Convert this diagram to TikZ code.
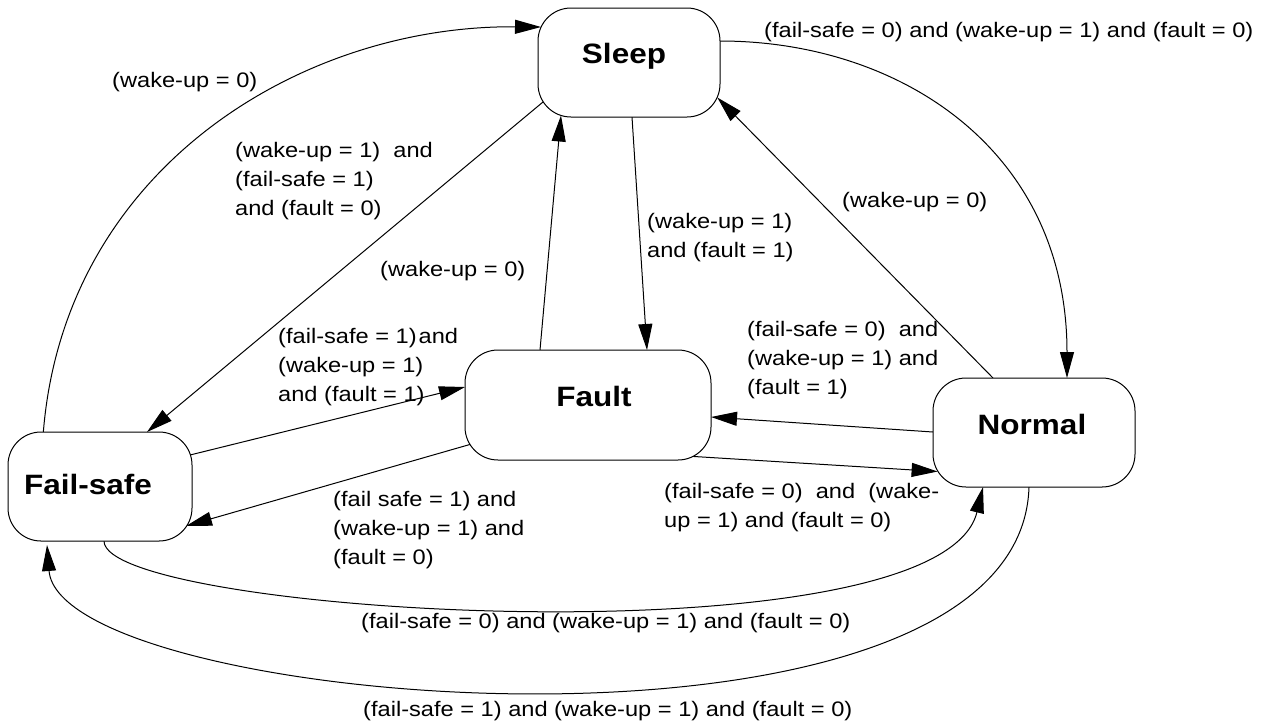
\documentclass[tikz,border=0pt]{standalone}
\usepackage{fontspec}
\setmainfont{Liberation Sans}[FakeStretch=1.125]
\usetikzlibrary{arrows.meta,calc,backgrounds}
\begin{document}
\begin{tikzpicture}[x=1pt,y=-1pt,
  statebox/.style={draw, line width=1pt, fill=white, rounded corners=33pt, inner sep=0pt, minimum width=#1, minimum height=109pt},
  stxt/.style={anchor=base, inner sep=0pt, font=\fontsize{28pt}{32pt}\selectfont\bfseries},
  lbl/.style={anchor=north west, inner sep=0pt, align=left, font=\fontsize{21pt}{29pt}\selectfont},
  trans/.style={line width=1pt, -{Triangle[length=26pt,width=14pt]}}
]
\useasboundingbox (0,0) rectangle (1266,724);

% states
\node[statebox=182pt] (sleep) at (629,62.5) {};
\node[statebox=246pt, minimum height=110pt] (fault) at (588,405) {};
\node[statebox=202pt] (normal) at (1034,432.5) {};
\node[statebox=184pt] (failsafe) at (100,486.5) {};

\node[stxt] (sleepT) at (624,63) {Sleep};
\node[stxt] (faultT) at (594,406) {Fault};
\node[stxt] (normalT) at (1032,434) {Normal};
\node[stxt] (failsafeT) at (88,494) {Fail-safe};

% transitions
\begin{scope}[on background layer]
\draw[trans] ($(failsafe)+(-57,-50)$) .. controls (62,170) and (300,25) .. ($(sleep)+(-88,-35.5)$);
\draw[trans] ($(sleep)+(-74,29.5)$) -- ($(failsafe)+(47,-54.5)$);
\draw[trans] ($(fault)+(-48,-55)$) -- ($(sleep)+(-68,53)$);
\draw[trans] ($(sleep)+(3,54.5)$) -- ($(fault)+(59,-55)$);
\draw[trans] ($(normal)+(-41,-54.5)$) -- ($(sleep)+(88.3,35)$);
\draw[trans] ($(sleep)+(91,-21.5)$) .. controls (900,41) and (1067,150) .. ($(normal)+(33,-54.5)$);
\draw[trans] ($(failsafe)+(86,-30.5)$) -- ($(fault)+(-123,-18)$);
\draw[trans] ($(fault)+(-113,38)$) -- ($(failsafe)+(86,39.5)$);
\draw[trans] ($(normal)+(-101,-0.5)$) -- ($(fault)+(123,12)$);
\draw[trans] ($(fault)+(98,51)$) -- ($(normal)+(-96.4,39)$);
\draw[trans] ($(failsafe)+(4,54.5)$) .. controls (104,615) and (940,665) .. ($(normal)+(-51,54.5)$);
\draw[trans] ($(normal)+(-5,54.5)$) .. controls (1020,788) and (60,710) .. ($(failsafe)+(-53,58.5)$);
\end{scope}

% labels
\node[lbl] (l1) at (112,72) {(wake-up = 0)};
\node[lbl] (l2) at (235,142) {(wake-up = 1)~ and\\(fail-safe = 1)\\and (fault = 0)};
\node[lbl] (l3) at (380,261) {(wake-up = 0)};
\node[lbl] (l4) at (647,213) {(wake-up = 1)\\and (fault = 1)};
\node[lbl] (l5) at (842,192) {(wake-up = 0)};
\node[lbl] (l6) at (764,22) {(fail-safe = 0) and (wake-up = 1) and (fault = 0)};
\node[lbl] (l7) at (278,328) {(fail-safe = 1)\hspace{2pt}and\\(wake-up = 1)\\and (fault = 1)};
\node[lbl] (l8) at (333,491) {(fail safe = 1) and\\(wake-up = 1) and\\(fault = 0)};
\node[lbl] (l9) at (747,321) {(fail-safe = 0)~ and\\(wake-up = 1) and\\(fault = 1)};
\node[lbl] (l10) at (664,483) {(fail-safe = 0)~ and~ (wake-\\up = 1) and (fault = 0)};
\node[lbl] (l11) at (361,613) {(fail-safe = 0) and (wake-up = 1) and (fault = 0)};
\node[lbl] (l12) at (363,701) {(fail-safe = 1) and (wake-up = 1) and (fault = 0)};
\end{tikzpicture}
\end{document}
